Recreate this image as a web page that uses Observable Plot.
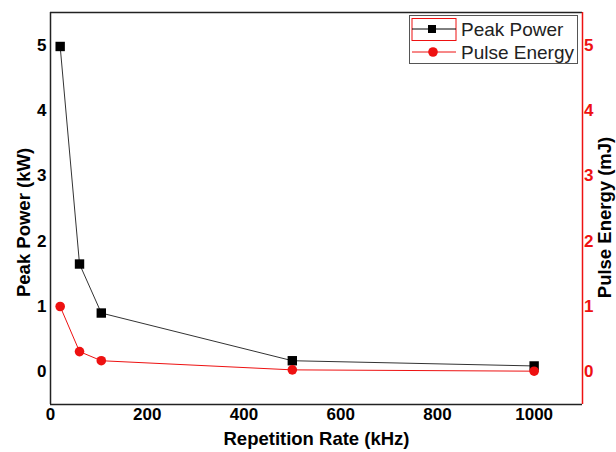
<!DOCTYPE html>
<html>
<head>
<meta charset="utf-8">
<script src="https://cdn.jsdelivr.net/npm/d3@7"></script>
<script src="https://cdn.jsdelivr.net/npm/@observablehq/plot@0.6"></script>
<style>
  body { margin: 0; background: #fff; }
  #wrap { position: relative; width: 616px; height: 452px; font-family: "Liberation Sans", Arial, sans-serif; }
  #legend { position: absolute; left: 409px; top: 15px; }
</style>
</head>
<body>
<div id="wrap"></div>
<script>
const repRate = [20, 60, 105, 500, 1000];
const peakPower = [4.98, 1.65, 0.9, 0.17, 0.09];
const pulseEnergy = [1.0, 0.31, 0.17, 0.03, 0.01];
const yTicks = [0, 1, 2, 3, 4, 5];
const xTicks = [0, 200, 400, 600, 800, 1000];
const seriesNames = ["Peak Power", "Pulse Energy"];
const axisTitles = ["Repetition Rate (kHz)", "Peak Power (kW)", "Pulse Energy (mJ)"];

const power = repRate.map((x, i) => ({x, y: peakPower[i]}));
const energy = repRate.map((x, i) => ({x, y: pulseEnergy[i]}));

const red = "#ee1111";
const font = "Liberation Sans, Arial, sans-serif";
const chart = Plot.plot({
  width: 616,
  height: 452,
  marginLeft: 50,
  marginRight: 34,
  marginTop: 12,
  marginBottom: 48,
  style: {fontFamily: font, fontSize: "17px", fontWeight: "bold", color: "#000", background: "#fff"},
  x: {domain: [0, 1100]},
  y: {domain: [-0.5, 5.5]},
  marks: [
    Plot.axisX({ticks: xTicks, tickFormat: "d", tickSize: 0, tickPadding: 3, fontSize: 17, fontWeight: "bold", label: null}),
    Plot.axisY({anchor: "left", ticks: yTicks, tickFormat: "d", tickSize: 0, tickPadding: 4, fontSize: 17, fontWeight: "bold", label: null}),
    Plot.axisY({anchor: "right", ticks: yTicks, tickFormat: "d", tickSize: 0, tickPadding: 1.5, fontSize: 17, fontWeight: "bold", color: red, label: null}),
    Plot.text([axisTitles[0]], {frameAnchor: "bottom", textAnchor: "middle", dy: 40, fontSize: 18.5, fontWeight: "bold", fill: "#000"}),
    Plot.text([axisTitles[1]], {frameAnchor: "left", textAnchor: "middle", dx: -26, dy: 14, rotate: -90, fontSize: 18.5, fontWeight: "bold", fill: "#000"}),
    Plot.text([axisTitles[2]], {frameAnchor: "right", textAnchor: "middle", dx: 22.5, dy: 9, rotate: -90, fontSize: 18.5, fontWeight: "bold", fill: "#000"}),
    Plot.ruleY([5.5], {stroke: "#222", strokeWidth: 1.5}),
    Plot.ruleY([-0.5], {stroke: "#222", strokeWidth: 1.5}),
    Plot.ruleX([0], {stroke: "#222", strokeWidth: 1.5}),
    Plot.ruleX([1100], {stroke: red, strokeWidth: 1.5}),
    Plot.line(power, {x: "x", y: "y", stroke: "#333", strokeWidth: 1}),
    Plot.line(energy, {x: "x", y: "y", stroke: red, strokeWidth: 1}),
    Plot.dot(power, {x: "x", y: "y", symbol: "square", r: 5.3, fill: "#000", stroke: "none"}),
    Plot.dot(energy, {x: "x", y: "y", symbol: "circle", r: 4.8, fill: red, stroke: "none"})
  ]
});
document.getElementById("wrap").appendChild(chart);

// legend
const lg = d3.select("#wrap").append("svg").attr("id", "legend").attr("width", 170).attr("height", 50);
lg.append("rect").attr("x", 0.5).attr("y", 0.5).attr("width", 168).attr("height", 48).attr("fill", "#fff").attr("stroke", "#555").attr("stroke-width", 1);
const rows = [{name: seriesNames[0], color: "#000", shape: "square"}, {name: seriesNames[1], color: red, shape: "circle"}];
rows.forEach((r, i) => {
  const cy = 14 + i * 23;
  if (i === 0) lg.append("rect").attr("x", 3).attr("y", 3.5).attr("width", 44).attr("height", 22).attr("fill", "none").attr("stroke", red).attr("stroke-width", 1);
  lg.append("line").attr("x1", 3).attr("x2", 47).attr("y1", cy).attr("y2", cy).attr("stroke", r.color).attr("stroke-width", 1);
  if (r.shape === "square") lg.append("rect").attr("x", 19).attr("y", cy - 4).attr("width", 8).attr("height", 8).attr("fill", r.color);
  else lg.append("circle").attr("cx", 24).attr("cy", cy).attr("r", 4.8).attr("fill", r.color);
  lg.append("text").attr("x", 52).attr("y", cy + 6.5).attr("font-size", 19).attr("font-family", font).attr("fill", "#222").text(r.name);
});
</script>
</body>
</html>
